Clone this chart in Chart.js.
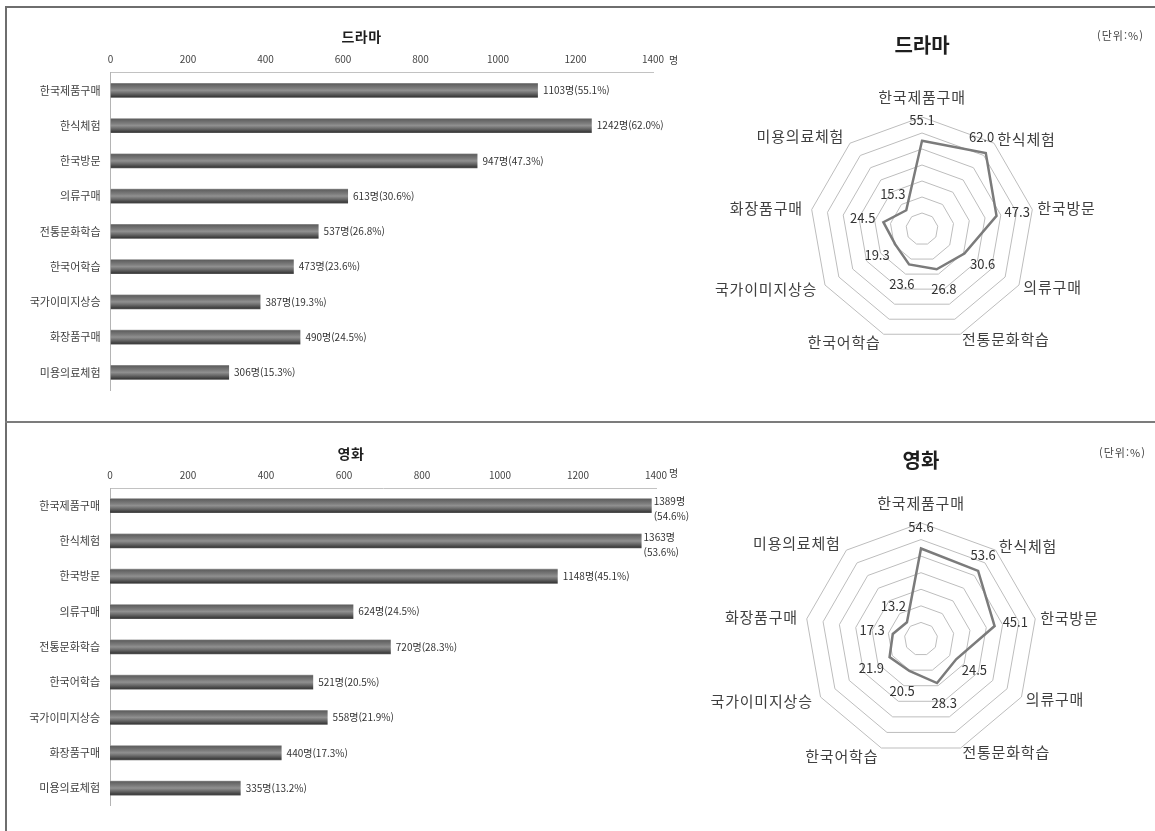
<!DOCTYPE html>
<html lang="ko">
<head>
<meta charset="utf-8">
<title>드라마 · 영화 시청 후 한국 관련 경험</title>
<script src="https://cdn.jsdelivr.net/npm/chart.js@4.4.1/dist/chart.umd.min.js"></script>
<style>
  html, body { margin: 0; padding: 0; background: #fff; }
  body { width: 1155px; height: 831px; position: relative; overflow: hidden; font-family: "Noto Sans CJK KR", sans-serif; }
  .rule { position: absolute; background: #6e6e6e; }
  canvas { position: absolute; }
</style>
</head>
<body>
<div class="rule" style="left:5px; top:6px; width:1150px; height:1.5px;"></div>
<div class="rule" style="left:5px; top:6px; width:1.5px; height:825px;"></div>
<div class="rule" style="left:5px; top:421px; width:1150px; height:1.5px; background:#7c7c7c;"></div>

<canvas id="dramaBar" width="723" height="420" style="left:0; top:0;"></canvas>
<canvas id="dramaRadar" width="455" height="420" style="left:700px; top:0;"></canvas>
<canvas id="movieBar" width="723" height="409" style="left:0; top:422px;"></canvas>
<canvas id="movieRadar" width="455" height="409" style="left:700px; top:422px;"></canvas>

<script>
const categories = ['한국제품구매', '한식체험', '한국방문', '의류구매', '전통문화학습', '한국어학습', '국가이미지상승', '화장품구매', '미용의료체험'];

// 응답자 수(명)와 비율(%)
const dramaCounts = [1103, 1242, 947, 613, 537, 473, 387, 490, 306];
const dramaShares = [55.1, 62.0, 47.3, 30.6, 26.8, 23.6, 19.3, 24.5, 15.3];
const movieCounts = [1389, 1363, 1148, 624, 720, 521, 558, 440, 335];
const movieShares = [54.6, 53.6, 45.1, 24.5, 28.3, 20.5, 21.9, 17.3, 13.2];

const countTicks = [0, 200, 400, 600, 800, 1000, 1200, 1400];
const shareTicks = [0, 10, 20, 30, 40, 50, 60, 70];

const FONT = '"Noto Sans CJK KR", "Noto Sans", sans-serif';
const BAR_PCT = 0.42;

// 원통 느낌의 회색 그라데이션 막대
function barShade(ctx) {
  const chart = ctx.chart;
  const y = chart.scales.y;
  if (!y || ctx.type !== 'data') return '#666';
  const yc = y.getPixelForValue(ctx.dataIndex);
  const half = y.height / categories.length * BAR_PCT / 2;
  if (!isFinite(yc) || !isFinite(half) || half <= 0) return '#666';
  const g = chart.ctx.createLinearGradient(0, yc - half, 0, yc + half);
  g.addColorStop(0, '#a4a4a4');
  g.addColorStop(0.08, '#606060');
  g.addColorStop(0.35, '#7c7c7c');
  g.addColorStop(0.5, '#909090');
  g.addColorStop(0.7, '#6a6a6a');
  g.addColorStop(0.92, '#3c3c3c');
  g.addColorStop(1, '#5c5c5c');
  return g;
}

// 제목, 단위 등 고정 문구
const panelText = {
  id: 'panelText',
  afterDraw(chart, args, opts) {
    const c = chart.ctx;
    c.save();
    (opts.items || []).forEach(t => {
      c.font = t.font;
      c.letterSpacing = t.spacing || '0px';
      c.fillStyle = t.color || '#222';
      c.textAlign = t.align || 'center';
      c.textBaseline = 'middle';
      c.fillText(t.text, t.x, t.y);
    });
    c.restore();
  }
};

// 막대 끝의 "n명(p%)" 라벨
const barLabels = {
  id: 'barLabels',
  afterDatasetsDraw(chart, args, opts) {
    if (!opts.shares) return;
    const c = chart.ctx;
    const meta = chart.getDatasetMeta(0);
    const counts = chart.data.datasets[0].data;
    c.save();
    c.font = '10px ' + FONT;
    c.fillStyle = '#333';
    c.textAlign = 'left';
    c.textBaseline = 'middle';
    meta.data.forEach((bar, i) => {
      const head = counts[i] + '명';
      const tail = '(' + opts.shares[i].toFixed(1) + '%)';
      const x = bar.x + 5;
      if (x + c.measureText(head + tail).width > opts.limit) {
        c.fillText(head, bar.x + 2, bar.y - 4);
        c.fillText(tail, bar.x + 2, bar.y + 11);
      } else {
        c.fillText(head + tail, x, bar.y);
      }
    });
    c.restore();
  }
};

function overlaps(a, b) {
  return a.l < b.r && a.r > b.l && a.t < b.b && a.b > b.t;
}

// 방사형 차트의 항목명과 값
const radarText = {
  id: 'radarText',
  afterDatasetsDraw(chart) {
    const r = chart.scales.r;
    if (!r) return;
    const c = chart.ctx;
    const R = r.drawingArea;
    const boxes = [];
    c.save();
    c.font = '15px ' + FONT;
    c.letterSpacing = '0.8px';
    c.fillStyle = '#404040';
    categories.forEach((name, i) => {
      const a = r.getIndexAngle(i);
      const s = Math.sin(a);
      const w = c.measureText(name).width;
      let p, box;
      if (Math.abs(s) < 0.01 && Math.cos(a) > 0) {
        p = r.getPointPosition(i, R + 12);
        c.textAlign = 'center';
        c.textBaseline = 'bottom';
        box = { l: p.x - w / 2, r: p.x + w / 2, t: p.y - 16, b: p.y };
      } else {
        p = r.getPointPosition(i, s > 0 ? R + 5 : R + 9);
        c.textAlign = s > 0 ? 'left' : 'right';
        c.textBaseline = 'middle';
        box = s > 0 ? { l: p.x, r: p.x + w, t: p.y - 8, b: p.y + 8 }
                    : { l: p.x - w, r: p.x, t: p.y - 8, b: p.y + 8 };
      }
      boxes.push(box);
      c.fillText(name, p.x, p.y);
    });

    c.font = '13px ' + FONT;
    c.letterSpacing = '0px';
    c.fillStyle = '#333';
    c.textAlign = 'center';
    c.textBaseline = 'middle';
    chart.data.datasets[0].data.forEach((v, i) => {
      const p = r.getPointPosition(i, r.getDistanceFromCenterForValue(v) + 21);
      const w = c.measureText(v.toFixed(1)).width;
      let x = p.x;
      // 항목명과 겹치면 중심 쪽으로 밀어낸다
      boxes.forEach(b => {
        const lb = { l: x - w / 2, r: x + w / 2, t: p.y - 6.5, b: p.y + 6.5 };
        if (overlaps(lb, b)) {
          x = x > r.xCenter ? b.l - 3 - w / 2 : b.r + 3 + w / 2;
        }
      });
      c.fillText(v.toFixed(1), x, p.y);
    });
    c.restore();
  }
};

function makeBar(id, counts, shares, title, geo) {
  return new Chart(document.getElementById(id), {
    type: 'bar',
    data: {
      labels: categories,
      datasets: [{
        data: counts,
        backgroundColor: barShade,
        borderWidth: 0,
        barPercentage: BAR_PCT,
        categoryPercentage: 1
      }]
    },
    options: {
      indexAxis: 'y',
      responsive: false,
      animation: false,
      layout: { padding: { left: 0, top: 0, right: geo.right, bottom: geo.bottom } },
      scales: {
        x: {
          position: 'top',
          min: countTicks[0],
          max: countTicks[countTicks.length - 1],
          ticks: {
            stepSize: countTicks[1] - countTicks[0], padding: 7, autoSkip: false,
            color: '#444', font: { size: 10, family: FONT },
            callback: v => String(v)
          },
          grid: { display: false, drawTicks: false },
          border: { color: '#c2c2c2', width: 1 },
          afterFit: s => { s.height = geo.top; }
        },
        y: {
          ticks: { padding: 10, autoSkip: false, color: '#404040', font: { size: 11, family: FONT } },
          grid: { display: false, drawTicks: false },
          border: { color: '#b4b4b4', width: 1 },
          afterFit: s => { s.width = geo.left; }
        }
      },
      plugins: {
        legend: { display: false },
        tooltip: { enabled: false },
        barLabels: { shares: shares, limit: 708 },
        panelText: {
          items: [
            { text: title, x: geo.titleX, y: geo.titleY, font: 'bold 14px ' + FONT, color: '#1e1e1e', spacing: '0.5px' },
            { text: '명', x: geo.unitX, y: geo.unitY, font: '10px ' + FONT, color: '#444', align: 'left' }
          ]
        }
      }
    },
    plugins: [barLabels, panelText]
  });
}

function makeRadar(id, shares, title, geo) {
  return new Chart(document.getElementById(id), {
    type: 'radar',
    data: {
      labels: categories,
      datasets: [{
        data: shares,
        borderColor: '#7b7b7b',
        borderWidth: 2.5,
        fill: false,
        pointRadius: 0,
        tension: 0
      }]
    },
    options: {
      responsive: false,
      animation: false,
      layout: { padding: geo.pad },
      scales: {
        r: {
          min: shareTicks[0],
          max: shareTicks[shareTicks.length - 1],
          ticks: { display: false, stepSize: shareTicks[1] - shareTicks[0] },
          grid: { color: '#bdbdbd', lineWidth: 1 },
          angleLines: { display: false },
          pointLabels: { display: false }
        }
      },
      plugins: {
        legend: { display: false },
        tooltip: { enabled: false },
        panelText: {
          items: [
            { text: title, x: geo.titleX, y: geo.titleY, font: 'bold 20px ' + FONT, color: '#1e1e1e' },
            { text: '(단위:%)', x: geo.unitX, y: geo.unitY, font: '11px ' + FONT, color: '#444', align: 'left', spacing: '1px' }
          ]
        }
      }
    },
    plugins: [radarText, panelText]
  });
}

makeBar('dramaBar', dramaCounts, dramaShares, '드라마', {
  left: 110.5, top: 72.7, right: 70, bottom: 30,
  titleX: 361.5, titleY: 37, unitX: 669, unitY: 60
});
makeBar('movieBar', movieCounts, movieShares, '영화', {
  left: 110, top: 66, right: 67, bottom: 25.3,
  titleX: 351, titleY: 31.5, unitX: 669, unitY: 51
});
makeRadar('dramaRadar', dramaShares, '드라마', {
  pad: { left: 110, right: 121, top: 117, bottom: 79 },
  titleX: 222, titleY: 45, unitX: 397, unitY: 36
});
makeRadar('movieRadar', movieShares, '영화', {
  pad: { left: 105, right: 118, top: 101, bottom: 76 },
  titleX: 221, titleY: 38, unitX: 399, unitY: 31
});
</script>
</body>
</html>
